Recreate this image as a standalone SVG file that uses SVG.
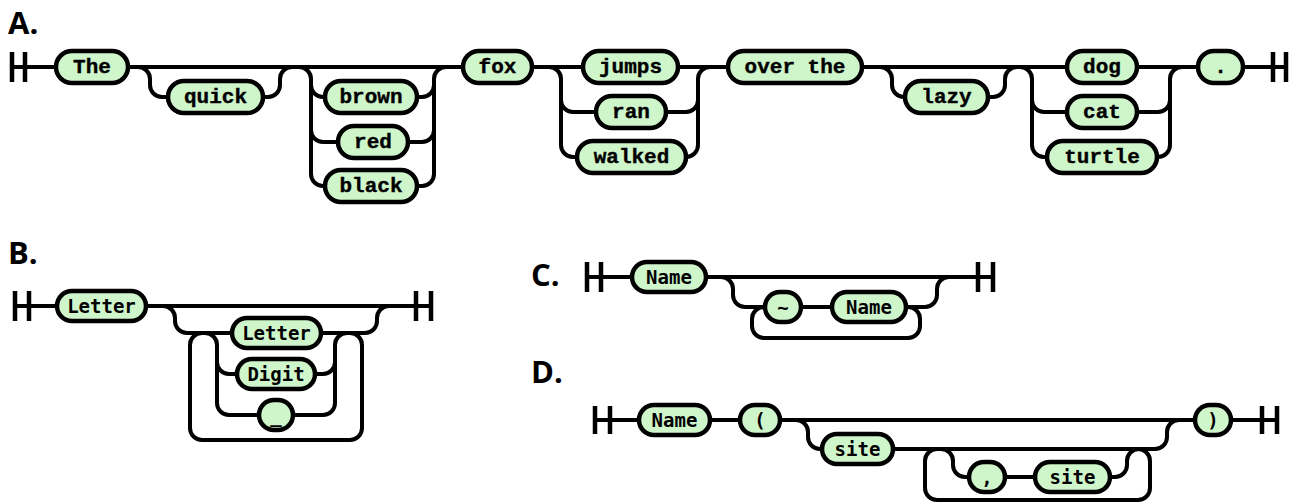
<svg xmlns="http://www.w3.org/2000/svg" width="1290" height="503" viewBox="0 0 1290 503">
<style>
.ln{fill:none;stroke:#000;stroke-width:4}
.bar{fill:none;stroke:#000;stroke-width:4.5}
.nd rect{fill:#cff5cb;stroke:#000;stroke-width:4.5}
.ta{font-family:"Liberation Mono",monospace;font-weight:bold;font-size:21px;text-anchor:middle;dominant-baseline:central;stroke:#000;stroke-width:0.4}
.tb{font-family:"DejaVu Sans Mono",monospace;font-weight:bold;font-size:19px;text-anchor:middle;dominant-baseline:central}
.title{font-family:"Open Sans","Noto Sans",sans-serif;font-weight:bold;font-size:31px}
</style>
<rect width="1290" height="503" fill="#fff"/>
<text class="title" x="8" y="34">A.</text>
<text class="title" x="8" y="264">B.</text>
<text class="title" x="531" y="286">C.</text>
<text class="title" x="531" y="383">D.</text>

<g id="connectors">
<!-- A -->
<path class="bar" d="M12,52V82M25,52V82M1273,52V82M1286,52V82"/>
<path class="ln" d="M12,67H56M128,67H463M532,67H583M678,67H728M862,67H1067M1137,67H1198M1243,67H1286"/>
<path class="ln" d="M138,67A12,12 0 0 1 150,79V85A12,12 0 0 0 162,97H168M263,97H268A12,12 0 0 0 280,85V79A12,12 0 0 1 292,67"/>
<path class="ln" d="M299,67A12,12 0 0 1 311,79V174A12,12 0 0 0 323,186H325M311,85A12,12 0 0 0 323,97H325M311,130A12,12 0 0 0 323,142H338"/>
<path class="ln" d="M417,97H422A12,12 0 0 0 434,85M408,142H422A12,12 0 0 0 434,130M417,186H422A12,12 0 0 0 434,174V79A12,12 0 0 1 446,67"/>
<path class="ln" d="M549,67A12,12 0 0 1 561,79V145A12,12 0 0 0 573,157H577M561,100A12,12 0 0 0 573,112H596"/>
<path class="ln" d="M666,112H686A12,12 0 0 0 698,100M686,157A12,12 0 0 0 698,145V79A12,12 0 0 1 710,67"/>
<path class="ln" d="M880,67A12,12 0 0 1 892,79V85A12,12 0 0 0 904,97H905M988,97H993A12,12 0 0 0 1005,85V79A12,12 0 0 1 1017,67"/>
<path class="ln" d="M1020,67A12,12 0 0 1 1032,79V145A12,12 0 0 0 1044,157H1047M1032,100A12,12 0 0 0 1044,112H1067"/>
<path class="ln" d="M1137,112H1158A12,12 0 0 0 1170,100M1157,157H1158A12,12 0 0 0 1170,145V79A12,12 0 0 1 1182,67"/>
<!-- B -->
<path class="bar" d="M15,291V321M29,291V321M416,291V321M431,291V321"/>
<path class="ln" d="M15,306H57M146,306H431"/>
<path class="ln" d="M163,306A12,12 0 0 1 175,318V321A12,12 0 0 0 187,333H232M321,333H365A12,12 0 0 0 377,321V318A12,12 0 0 1 389,306"/>
<path class="ln" d="M202,333A12,12 0 0 0 190,345V428A12,12 0 0 0 202,440H350A12,12 0 0 0 362,428V345A12,12 0 0 0 350,333"/>
<path class="ln" d="M205,333A12,12 0 0 1 217,345V403A12,12 0 0 0 229,415H259M217,362A12,12 0 0 0 229,374H237"/>
<path class="ln" d="M315,374H323A12,12 0 0 0 335,362M293,415H323A12,12 0 0 0 335,403V345A12,12 0 0 1 347,333"/>
<!-- C -->
<path class="bar" d="M587,262V292M601,262V292M978,262V292M993,262V292"/>
<path class="ln" d="M587,277H632M706,277H993"/>
<path class="ln" d="M721,277A12,12 0 0 1 733,289V295A12,12 0 0 0 745,307H765M801,307H832M906,307H925A12,12 0 0 0 937,295V289A12,12 0 0 1 949,277"/>
<path class="ln" d="M764,307A12,12 0 0 0 752,319V326A12,12 0 0 0 764,338H908A12,12 0 0 0 920,326V319A12,12 0 0 0 908,307"/>
<!-- D -->
<path class="bar" d="M595,406V434M610,406V434M1262,406V434M1277,406V434"/>
<path class="ln" d="M595,420H639M710,420H740M780,420H1195M1231,420H1277"/>
<path class="ln" d="M796,420A12,12 0 0 1 808,432V437A12,12 0 0 0 820,449H822M893,449H1155A12,12 0 0 0 1167,437V432A12,12 0 0 1 1179,420"/>
<path class="ln" d="M937,449A12,12 0 0 0 925,461V488A12,12 0 0 0 937,500H1138A12,12 0 0 0 1150,488V461A12,12 0 0 0 1138,449"/>
<path class="ln" d="M941,449A12,12 0 0 1 953,461V465A12,12 0 0 0 965,477H969M1005,477H1035M1110,477H1115A12,12 0 0 0 1127,465V461A12,12 0 0 1 1139,449"/>
</g>

<g id="a-the" class="nd"><rect x="56" y="51" width="72" height="32" rx="16"/><text class="ta" x="92" y="67">The</text></g>
<g id="a-quick" class="nd"><rect x="168" y="81" width="95" height="32" rx="16"/><text class="ta" x="215.5" y="97">quick</text></g>
<g id="a-brown" class="nd"><rect x="325" y="81" width="92" height="32" rx="16"/><text class="ta" x="371" y="97">brown</text></g>
<g id="a-red" class="nd"><rect x="338" y="126" width="70" height="32" rx="16"/><text class="ta" x="373" y="142">red</text></g>
<g id="a-black" class="nd"><rect x="325" y="170" width="92" height="32" rx="16"/><text class="ta" x="371" y="186">black</text></g>
<g id="a-fox" class="nd"><rect x="463" y="51" width="69" height="32" rx="16"/><text class="ta" x="497.5" y="67">fox</text></g>
<g id="a-jumps" class="nd"><rect x="583" y="51" width="95" height="32" rx="16"/><text class="ta" x="630.5" y="67">jumps</text></g>
<g id="a-ran" class="nd"><rect x="596" y="96" width="70" height="32" rx="16"/><text class="ta" x="631" y="112">ran</text></g>
<g id="a-walked" class="nd"><rect x="577" y="141" width="109" height="32" rx="16"/><text class="ta" x="631.5" y="157">walked</text></g>
<g id="a-overthe" class="nd"><rect x="728" y="51" width="134" height="32" rx="16"/><text class="ta" x="795" y="67" xml:space="preserve">over the</text></g>
<g id="a-lazy" class="nd"><rect x="905" y="81" width="83" height="32" rx="16"/><text class="ta" x="946.5" y="97">lazy</text></g>
<g id="a-dog" class="nd"><rect x="1067" y="51" width="70" height="32" rx="16"/><text class="ta" x="1102" y="67">dog</text></g>
<g id="a-cat" class="nd"><rect x="1067" y="96" width="70" height="32" rx="16"/><text class="ta" x="1102" y="112">cat</text></g>
<g id="a-turtle" class="nd"><rect x="1047" y="141" width="110" height="32" rx="16"/><text class="ta" x="1102" y="157">turtle</text></g>
<g id="a-period" class="nd"><rect x="1198" y="51" width="45" height="32" rx="16"/><text class="ta" x="1220.5" y="67">.</text></g>

<g id="b-letter" class="nd"><rect x="57" y="291" width="89" height="30" rx="15"/><text class="tb" x="101.5" y="306">Letter</text></g>
<g id="b-letter2" class="nd"><rect x="232" y="318" width="89" height="30" rx="15"/><text class="tb" x="276.5" y="333">Letter</text></g>
<g id="b-digit" class="nd"><rect x="237" y="359" width="78" height="30" rx="15"/><text class="tb" x="276" y="374">Digit</text></g>
<g id="b-underscore" class="nd"><rect x="259" y="400" width="34" height="30" rx="15"/><text class="tb" x="276" y="415">_</text></g>

<g id="c-name" class="nd"><rect x="632" y="262" width="74" height="30" rx="15"/><text class="tb" x="669" y="277">Name</text></g>
<g id="c-tilde" class="nd"><rect x="765" y="292" width="36" height="30" rx="15"/><text class="tb" x="783" y="307">~</text></g>
<g id="c-name2" class="nd"><rect x="832" y="292" width="74" height="30" rx="15"/><text class="tb" x="869" y="307">Name</text></g>

<g id="d-name" class="nd"><rect x="639" y="405" width="71" height="30" rx="15"/><text class="tb" x="674.5" y="420">Name</text></g>
<g id="d-lparen" class="nd"><rect x="740" y="405" width="40" height="30" rx="15"/><text class="tb" x="760" y="420">(</text></g>
<g id="d-site" class="nd"><rect x="822" y="434" width="71" height="30" rx="15"/><text class="tb" x="857.5" y="449">site</text></g>
<g id="d-comma" class="nd"><rect x="969" y="462" width="36" height="30" rx="15"/><text class="tb" x="987" y="477">,</text></g>
<g id="d-site2" class="nd"><rect x="1035" y="462" width="75" height="30" rx="15"/><text class="tb" x="1072.5" y="477">site</text></g>
<g id="d-rparen" class="nd"><rect x="1195" y="405" width="36" height="30" rx="15"/><text class="tb" x="1213" y="420">)</text></g>
</svg>
